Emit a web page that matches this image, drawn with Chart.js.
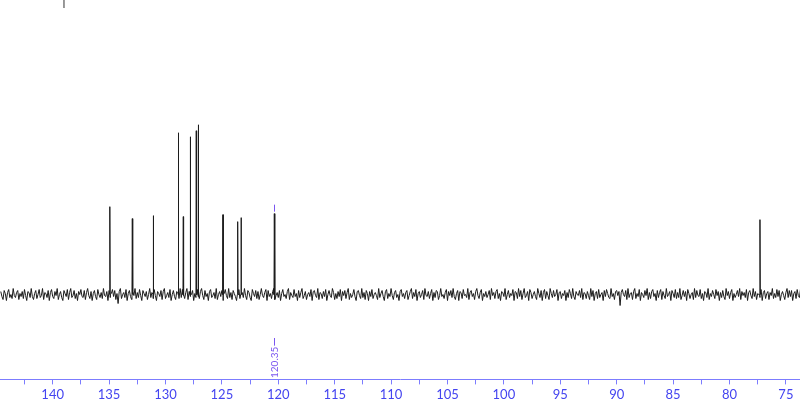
<!DOCTYPE html>
<html>
<head>
<meta charset="utf-8">
<script src="https://cdn.jsdelivr.net/npm/chart.js@4/dist/chart.umd.min.js"></script>
<style>
  html, body { margin: 0; padding: 0; background: #fff; }
  #wrap { width: 800px; height: 406px; }
</style>
</head>
<body>
<div id="wrap"><canvas id="nmr"></canvas></div>
<script>
// ---- 13C spectrum ----
// intensities are in the same units as the hidden y axis (baseline = 0)
var ppmMin = 73.75, ppmMax = 144.67;
var peakPpm    = [134.92, 132.94, 131.08, 128.86, 128.42, 127.80, 127.27, 127.09, 124.90, 123.60, 123.30, 120.35, 77.30];
var peakHeight = [88, 76, 79, 162, 78, 158, 164, 170, 80, 73, 77, 81, 75];
var labelPpm   = [120.35];
var labelText  = ['120.35'];

// baseline noise, one value every 0.1 ppm from 144.6 downwards
var noiseStart = 144.6, noiseStep = 0.1;
var noise = [
  3,-2,-5,4,1,-6,2,5,-3,0,-4,6,-1,-3,2,4,-5,1,-2,3,
  -4,5,-1,-6,3,2,-3,6,-2,-5,1,4,-4,0,5,-3,-1,6,-5,2,
  1,-3,4,-6,2,5,-2,-4,3,-1,6,-5,0,3,-3,-6,4,1,-2,5,
  -5,2,6,-3,-1,4,-4,1,-6,3,0,5,-2,-3,4,-5,2,6,-1,-4,
  3,-6,1,4,-2,-5,5,0,-3,2,-4,6,-1,-2,3,-6,4,-3,1,5,
  -2,4,-5,1,-9,3,6,-4,0,2,-3,5,-6,1,4,-2,-5,3,-1,6,
  -4,2,-3,5,-1,-6,4,1,-2,3,-5,0,6,-3,2,-4,5,-1,-6,3,
  1,-2,4,-5,3,6,-4,-1,2,-3,5,-6,0,4,-2,-5,3,1,-4,6,
  -3,5,-1,-4,2,6,-5,3,-2,0,4,-6,1,-3,5,-2,-4,3,6,-1,
  -5,4,-2,1,-6,3,5,-3,-1,2,-4,6,-5,0,3,-2,4,-6,1,5,
  -1,-4,6,-3,2,-5,4,1,-2,-6,3,5,-4,0,2,-3,6,-1,-5,4,
  2,-3,-6,5,1,-2,4,-4,3,-5,0,6,-1,-3,2,5,-6,4,-2,1,
  -4,3,6,-5,-1,2,-3,4,-6,1,5,-2,0,-4,3,6,-5,2,-1,-3,
  5,-2,1,-6,4,-3,2,6,-4,-1,3,-5,0,2,-2,5,-6,3,4,-1,
  -3,6,-5,2,1,-4,3,-2,5,-6,0,4,-1,-3,6,2,-5,1,-4,3,
  -2,5,-6,3,-1,4,-4,2,6,-5,1,-3,0,5,-2,-6,3,4,-1,-4,
  6,-3,2,-5,4,1,-6,3,-2,5,-4,0,2,-1,-5,6,-3,1,4,-2,
  -6,3,5,-4,1,-2,6,-1,-5,2,4,-3,0,-6,3,5,-2,1,-4,2,
  4,-5,-1,3,6,-4,2,-2,5,-6,1,3,-3,0,4,-5,6,-1,-2,3,
  -4,1,5,-6,2,-3,4,3,-5,-1,6,-2,0,-4,2,5,-6,3,-1,4,
  -3,6,-2,-5,1,4,-6,3,2,-4,5,-1,0,-3,6,-5,2,4,-2,1,
  -5,3,6,-1,-4,2,5,-6,1,-2,3,-3,0,4,-5,6,-1,2,-4,3,
  5,-4,1,-6,3,2,-2,6,-5,0,4,-3,1,-1,5,-6,3,2,-4,6,
  -2,4,-5,1,6,-3,-1,3,-6,5,2,-4,0,3,-2,-5,6,1,-3,4,
  -6,2,5,-4,3,-1,-5,6,1,-3,4,-2,0,5,-6,2,3,-4,1,-1,
  4,-6,2,-3,5,1,-4,6,-2,-5,3,0,-1,4,-3,6,-5,2,1,-4,
  3,-1,-5,6,-2,4,-6,1,3,-4,5,-3,0,2,-6,4,-2,5,1,-3,
  -4,6,-2,1,-5,3,4,-1,3,-11,2,5,0,-2,4,-5,6,-3,1,2,
  -5,3,6,-4,1,-2,5,-6,2,0,-3,4,-1,6,-5,2,-4,3,5,-2,
  1,-6,4,-3,2,5,-5,3,-1,-4,6,-2,0,3,-6,4,1,-3,5,-4,
  2,-3,6,-5,-1,4,-2,3,-6,5,1,-4,0,2,-5,6,-3,4,-1,-2,
  5,-4,1,-6,3,2,-3,6,-5,1,-2,4,0,-4,5,-1,3,-6,2,-3,
  4,-2,-5,6,-1,3,-4,2,5,-6,1,-3,0,4,-2,6,-5,3,-1,2,
  -3,5,-6,2,4,-1,-4,6,-2,3,-5,1,0,-3,5,-6,2,4,-4,1,
  3,-5,2,-1,6,-4,1,-3,5,-2,4,-6,0,3,-1,-5,2,6,-3,4,
  -2,4,-6,1,3,-4,5,-1,-3,6,-5,2,0,-4,3,1,-6,5,-2,3
];

// short grey stroke at the top edge (top of an off-scale signal)
var topMarkPpm = 139.0;
var topMarkY = [295, 287];

var axisBlue = '#4444f0';
var axisLine = '#7c7cff';
var labelPurple = '#7a55f0';

// build the trace: noise points plus a narrow spike for each peak
var trace = [];
for (var i = 0; i < noise.length; i++) {
  trace.push({ x: noiseStart - i * noiseStep, y: noise[i] });
}
for (var j = 0; j < peakPpm.length; j++) {
  trace.push({ x: peakPpm[j] + 0.03, y: 0 });
  trace.push({ x: peakPpm[j], y: peakHeight[j] });
  trace.push({ x: peakPpm[j] - 0.03, y: 0 });
}
trace.sort(function(a, b) { return b.x - a.x; });

var topMark = topMarkY.map(function(v) { return { x: topMarkPpm, y: v }; });

// peak label: small tick above the peak and rotated value with a leader below the trace
var peakLabelPlugin = {
  id: 'peakLabels',
  afterDatasetsDraw: function(chart) {
    var ctx = chart.ctx;
    var xs = chart.scales.x, ys = chart.scales.y;
    ctx.save();
    for (var k = 0; k < labelPpm.length; k++) {
      var idx = peakPpm.indexOf(labelPpm[k]);
      var px = Math.round(xs.getPixelForValue(labelPpm[k])) + 0.5;
      var top = ys.getPixelForValue(peakHeight[idx]);
      ctx.strokeStyle = labelPurple;
      ctx.lineWidth = 1;
      ctx.beginPath();
      ctx.moveTo(px, top - 9);
      ctx.lineTo(px, top - 2);
      ctx.stroke();
      ctx.font = '10px Lato, "DejaVu Sans", sans-serif';
      var w = ctx.measureText(labelText[k]).width;
      ctx.beginPath();
      ctx.moveTo(px, 338);
      ctx.lineTo(px, 378 - w - 1);
      ctx.stroke();
      ctx.translate(px, 378);
      ctx.rotate(-Math.PI / 2);
      ctx.fillStyle = labelPurple;
      ctx.textAlign = 'left';
      ctx.textBaseline = 'middle';
      ctx.fillText(labelText[k], 0, 0);
      ctx.setTransform(1, 0, 0, 1, 0, 0);
    }
    ctx.restore();
  }
};

new Chart(document.getElementById('nmr'), {
  type: 'line',
  data: {
    datasets: [{
      data: trace,
      borderColor: '#1c1c1c',
      borderWidth: 1,
      pointRadius: 0,
      tension: 0,
      fill: false
    }, {
      data: topMark,
      borderColor: '#8a8a8a',
      borderWidth: 1,
      pointRadius: 0,
      fill: false
    }]
  },
  options: {
    responsive: true,
    maintainAspectRatio: false,
    animation: false,
    layout: { padding: 0 },
    plugins: { legend: { display: false }, tooltip: { enabled: false } },
    scales: {
      x: {
        type: 'linear',
        reverse: true,
        min: ppmMin,
        max: ppmMax,
        border: { display: true, color: axisLine, width: 1 },
        grid: { drawOnChartArea: false, tickLength: 5, color: axisLine },
        ticks: {
          stepSize: 2.5,
          includeBounds: false,
          autoSkip: false,
          maxRotation: 0,
          padding: 3,
          color: axisBlue,
          font: { family: 'Lato, "DejaVu Sans", sans-serif', size: 13 },
          callback: function(v) { return v % 5 === 0 ? String(v) : ''; }
        }
      },
      y: {
        display: false,
        min: -85,
        max: 295
      }
    }
  },
  plugins: [peakLabelPlugin]
});
</script>
</body>
</html>
